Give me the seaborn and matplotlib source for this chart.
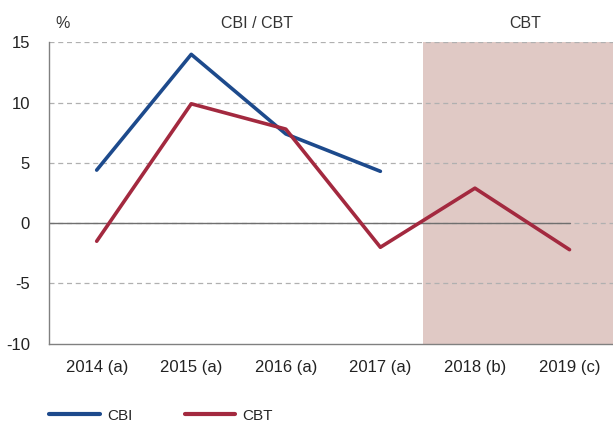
import matplotlib.pyplot as plt
import seaborn as sns
import pandas as pd
import numpy as np

years = ["2014 (a)", "2015 (a)", "2016 (a)", "2017 (a)", "2018 (b)", "2019 (c)"]
cbi = [4.4, 14.0, 7.4, 4.3, np.nan, np.nan]
cbt = [-1.5, 9.9, 7.8, -2.0, 2.9, -2.2]
y_ticks = [-10, -5, 0, 5, 10, 15]


def plot_inflation():
    # Montar a tabela em formato longo
    df = pd.DataFrame({"ano": years * 2,
                       "valor": cbi + cbt,
                       "serie": ["CBI"] * len(years) + ["CBT"] * len(years)})
    df["pos"] = df["ano"].map({a: i for i, a in enumerate(years)})

    # Estilo limpo
    sns.set_style("white")
    plt.rcParams['font.family'] = ['Liberation Sans']
    plt.rcParams['axes.unicode_minus'] = False  # hífen simples nos negativos

    fig = plt.figure(figsize=(6.13, 4.21), dpi=100)
    ax = fig.add_axes([0.0806, 0.1836, 0.9194, 0.7159])

    # Zona de previsão (CBT)
    ax.axvspan(3.45, 5.46, color='#e0c9c5', zorder=0, lw=0)

    # Linhas de grelha tracejadas
    for t in y_ticks[1:]:
        ax.axhline(t, color='#b0b0b0', lw=0.9, ls=(0, (4, 3)), zorder=1)
    ax.plot([-0.5, 5], [0, 0], color='#6f6f6f', lw=1.0, zorder=2)  # linha do zero

    sns.lineplot(data=df, x="pos", y="valor", hue="serie",
                 palette={"CBI": "#1d4a8c", "CBT": "#a3293f"},
                 linewidth=2.6, legend=False, ax=ax, zorder=3)

    # Eixos
    ax.set_xlim(-0.5, 5.46)
    ax.set_ylim(-10, 15)
    ax.set_yticks(y_ticks)
    ax.set_xticks(range(len(years)))
    ax.set_xticklabels(years)
    ax.set_xticks(np.arange(0.5, 5, 1), minor=True)
    ax.tick_params(axis='x', which='major', length=0, pad=12, labelsize=12, colors='#222222')
    ax.tick_params(axis='x', which='minor', length=5, direction='in', color='#909090', width=1)
    ax.tick_params(axis='y', length=0, pad=14, labelsize=12, colors='#222222')
    ax.set_xlabel("")
    ax.set_ylabel("")
    for side in ['top', 'right']:
        ax.spines[side].set_visible(False)
    for side in ['left', 'bottom']:
        ax.spines[side].set_color('#808080')
        ax.spines[side].set_linewidth(1.0)

    # Títulos das zonas
    fig.text(0.09, 0.945, "%", fontsize=11.5, color='#333333', va='center')
    fig.text(257 / 613, 0.945, "CBI / CBT", fontsize=11.5, color='#333333', ha='center', va='center')
    fig.text(525 / 613, 0.945, "CBT", fontsize=11.5, color='#333333', ha='center', va='center')

    # Legenda em baixo
    handles = [plt.Line2D([], [], color='#1d4a8c', lw=3),
               plt.Line2D([], [], color='#a3293f', lw=3)]
    fig.legend(handles, ["CBI", "CBT"], loc='center left', bbox_to_anchor=(0.058, 0.013),
               ncol=2, frameon=False, fontsize=11, handlelength=3.3, columnspacing=3.4,
               handletextpad=0.5)

    plt.savefig("out.png", dpi=100)


if __name__ == "__main__":
    plot_inflation()
